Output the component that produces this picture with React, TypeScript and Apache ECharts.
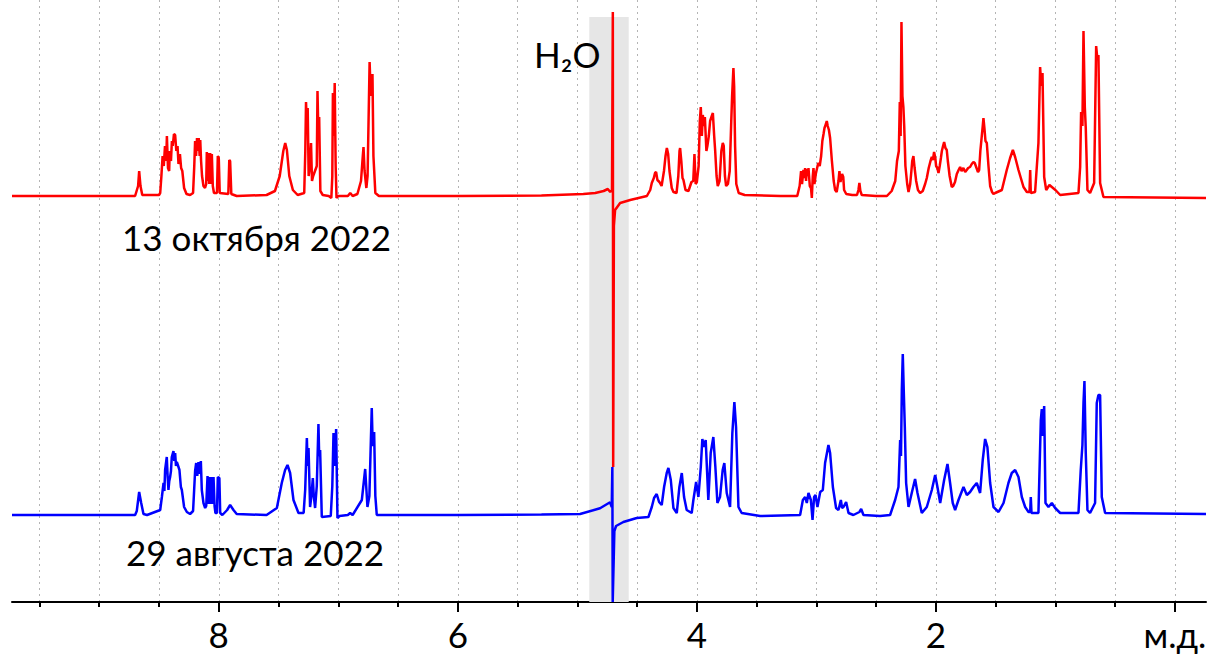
import React, { useEffect, useRef } from "react";
import * as echarts from "echarts";

// ppm range of the x axis (reversed, NMR style)
const ppmMin = -0.26;
const ppmMax = 9.73;
const majorTicks = [0, 2, 4, 6, 8];
const minorTicks = [0, 0.5, 1, 1.5, 2, 2.5, 3, 3.5, 4, 4.5, 5, 5.5, 6, 6.5, 7, 7.5, 8, 8.5, 9, 9.5];
const unitLabel = "м.д.";
const waterBand = [4.9, 4.57];
const waterLabel = "H₂O";
const dateTop = "13 октября 2022";
const dateBottom = "29 августа 2022";

// spectrum recorded 13 Oct 2022: [ppm, intensity]
const oct13Trace = [
  [9.73, 0], [8.70, 0], [8.675, 10], [8.666, 25], [8.655, 10], [8.64, 1],
  [8.50, 1], [8.49, 3], [8.48, 20], [8.47, 40], [8.46, 30], [8.45, 50], [8.44, 35], [8.434, 60], [8.425, 28], [8.415, 25], [8.41, 45], [8.40, 35], [8.392, 55], [8.385, 50], [8.375, 62], [8.365, 61], [8.355, 45], [8.345, 50], [8.337, 32], [8.325, 42], [8.315, 28], [8.305, 25], [8.29, 8], [8.27, 2], [8.24, 1],
  [8.215, 3], [8.205, 30], [8.198, 55], [8.19, 40], [8.182, 58], [8.175, 45], [8.168, 58], [8.16, 40], [8.155, 56], [8.148, 35], [8.14, 20], [8.128, 10], [8.115, 8],
  [8.105, 12], [8.10, 44], [8.094, 15], [8.088, 43], [8.08, 12], [8.072, 43], [8.065, 12], [8.058, 42], [8.05, 10], [8.04, 3],
  [8.015, 3], [8.008, 40], [8.0, 38], [7.992, 3],
  [7.92, 2], [7.912, 36], [7.905, 35], [7.895, 2],
  [7.85, 0], [7.6, 1], [7.53, 5], [7.49, 20], [7.46, 45], [7.444, 53], [7.43, 46], [7.41, 20], [7.38, 6], [7.34, 1],
  [7.285, 3], [7.276, 45], [7.27, 94], [7.263, 70], [7.256, 88], [7.248, 20], [7.238, 30], [7.228, 53], [7.22, 15], [7.21, 20], [7.18, 30], [7.174, 105], [7.168, 70], [7.16, 79], [7.15, 5], [7.13, 1],
  [7.08, 0], [7.058, -2], [7.05, 20], [7.045, 103], [7.037, 60], [7.03, 113], [7.022, 30], [7.015, -2], [7.0, 0],
  [6.92, 0], [6.90, 3], [6.88, 0],
  [6.84, 2], [6.81, 15], [6.795, 40], [6.789, 49], [6.78, 25], [6.765, 8], [6.755, 20], [6.738, 134], [6.728, 100], [6.72, 110], [6.714, 122], [6.706, 40], [6.69, 3], [6.66, 0],
  [6.0, 0], [5.3, 0.5], [4.95, 2], [4.85, 3], [4.78, 5], [4.745, 7], [4.725, 4], [4.71, 6], [4.703, 184], [4.700, -271], [4.694, -30], [4.684, -14], [4.642, -7], [4.558, -4], [4.418, 0],
  [4.39, 6], [4.377, 13], [4.36, 18], [4.35, 23], [4.341, 24], [4.33, 16], [4.313, 14], [4.295, 10], [4.275, 25], [4.262, 40], [4.251, 48], [4.24, 42], [4.229, 25], [4.21, 8], [4.196, 4], [4.17, 3], [4.155, 20], [4.145, 45], [4.14, 48], [4.13, 35], [4.12, 18], [4.112, 16], [4.095, 6], [4.07, 5], [4.045, 14], [4.03, 15], [4.02, 42], [4.01, 12], [4.0, 14], [3.985, 30], [3.975, 75], [3.967, 89], [3.958, 60], [3.95, 81], [3.94, 70], [3.933, 79], [3.92, 45], [3.912, 50], [3.90, 60], [3.889, 75], [3.875, 80], [3.866, 83], [3.855, 60], [3.847, 46], [3.835, 20], [3.825, 10], [3.81, 15], [3.795, 45], [3.783, 53], [3.775, 50], [3.765, 20], [3.755, 10], [3.74, 12], [3.725, 25], [3.712, 75], [3.705, 100], [3.694, 128], [3.688, 110], [3.68, 50], [3.67, 12], [3.65, 3], [3.6, 1],
  [3.3, 0], [3.16, 0], [3.14, 10], [3.128, 25], [3.12, 12], [3.108, 26], [3.1, 18], [3.094, 28], [3.086, 15], [3.08, 27], [3.07, 20], [3.066, 28], [3.055, 10], [3.045, 8], [3.038, -2], [3.03, 20], [3.024, 28], [3.016, 12], [3.005, 22], [2.99, 30], [2.982, 33], [2.972, 30], [2.96, 40], [2.95, 55], [2.94, 62], [2.932, 68], [2.92, 72], [2.913, 75], [2.905, 70], [2.895, 66], [2.885, 58], [2.87, 35], [2.855, 15], [2.843, 6], [2.83, 4], [2.815, 15], [2.807, 25], [2.798, 14], [2.79, 20], [2.785, 22], [2.775, 19], [2.768, 6], [2.75, 2], [2.7, 1], [2.66, 1], [2.648, 6], [2.64, 13], [2.632, 5], [2.62, 1], [2.5, 0], [2.41, 0],
  [2.37, 5], [2.34, 15], [2.325, 35], [2.31, 45], [2.302, 94], [2.295, 60], [2.288, 174], [2.28, 100], [2.272, 89], [2.265, 70], [2.255, 30], [2.24, 12], [2.229, 4], [2.215, 12], [2.205, 25], [2.198, 35], [2.188, 40], [2.178, 28], [2.165, 15], [2.15, 6], [2.132, 3], [2.11, 5], [2.09, 12], [2.076, 18], [2.06, 28], [2.045, 35], [2.034, 39], [2.025, 36], [2.015, 44], [2.005, 38], [1.998, 30], [1.988, 28], [1.978, 23], [1.968, 30], [1.958, 38], [1.95, 45], [1.94, 50], [1.931, 54], [1.92, 48], [1.909, 46], [1.9, 35], [1.885, 20], [1.867, 9], [1.855, 10], [1.84, 14], [1.825, 22], [1.81, 26], [1.797, 29], [1.785, 25], [1.77, 28], [1.755, 24], [1.742, 26], [1.73, 28], [1.714, 29], [1.70, 32], [1.686, 34], [1.675, 33], [1.66, 28], [1.648, 24], [1.638, 26], [1.628, 45], [1.616, 60], [1.608, 70], [1.602, 78], [1.594, 68], [1.585, 55], [1.574, 53], [1.56, 30], [1.546, 10], [1.53, 4], [1.518, 2],
  [1.504, 3], [1.448, 6], [1.407, 26], [1.379, 38], [1.356, 46], [1.337, 39], [1.309, 26], [1.267, 9], [1.239, 4], [1.217, 4], [1.211, 26], [1.206, 3], [1.17, 4], [1.142, 53], [1.128, 129], [1.118, 110], [1.108, 123], [1.094, 19], [1.077, 6], [1.05, 11], [1.03, 9], [1.0, 6], [0.96, 1], [0.807, 3], [0.793, 29], [0.785, 84], [0.774, 70], [0.765, 165], [0.754, 89], [0.746, 68], [0.732, 6], [0.71, 3], [0.676, 13], [0.659, 150], [0.648, 136], [0.64, 141], [0.626, 13], [0.598, -1], [-0.26, -2],
];

// spectrum recorded 29 Aug 2022: [ppm, intensity]
const aug29Trace = [
  [9.73, 1], [8.70, 1], [8.686, 5], [8.666, 24], [8.649, 13], [8.63, 2], [8.60, 1],
  [8.49, 6], [8.476, 19], [8.462, 33], [8.455, 25], [8.449, 46], [8.435, 59], [8.428, 40], [8.421, 26], [8.414, 35], [8.407, 39], [8.40, 45], [8.393, 59], [8.379, 65], [8.372, 55], [8.365, 63], [8.358, 50], [8.351, 54], [8.337, 49], [8.329, 46], [8.317, 29], [8.309, 26], [8.29, 9], [8.267, 4], [8.24, 2],
  [8.215, 5], [8.206, 26], [8.198, 45], [8.189, 53], [8.18, 40], [8.17, 54], [8.16, 42], [8.15, 55], [8.142, 26], [8.128, 13], [8.114, 8],
  [8.105, 10], [8.094, 40], [8.086, 12], [8.078, 39], [8.07, 12], [8.058, 39], [8.05, 12], [8.044, 39], [8.035, 10], [8.028, 3],
  [8.015, 3], [8.008, 39], [7.995, 38], [7.988, 3], [7.97, 1],
  [7.93, 6], [7.905, 11], [7.877, 6], [7.85, 2], [7.6, 1],
  [7.514, 8], [7.473, 33], [7.445, 46], [7.425, 51], [7.403, 43], [7.375, 16], [7.333, 3],
  [7.29, 3], [7.277, 26], [7.263, 78], [7.256, 50], [7.249, 68], [7.236, 9], [7.225, 20], [7.213, 38], [7.205, 20], [7.194, 8], [7.18, 30], [7.166, 92], [7.16, 60], [7.152, 66], [7.138, -1],
  [7.063, 0], [7.05, 30], [7.04, 83], [7.03, 50], [7.018, 87], [7.007, -2], [6.99, 0],
  [6.92, 1], [6.901, 3], [6.88, 1],
  [6.803, 16], [6.775, 47], [6.756, 9], [6.74, 20], [6.72, 108], [6.712, 70], [6.7, 84], [6.69, 20], [6.678, 1],
  [6.0, 1], [5.3, 1.5], [4.977, 2], [4.81, 7.7], [4.726, 13.7], [4.712, 9], [4.707, 49], [4.704, -86], [4.69, -15], [4.676, -10], [4.615, -6], [4.503, -2], [4.405, -1],
  [4.377, 9], [4.358, 18], [4.336, 22], [4.316, 14], [4.294, 11], [4.274, 29], [4.252, 43], [4.238, 48], [4.218, 36], [4.196, 8], [4.168, 3], [4.146, 29], [4.126, 43], [4.107, 19], [4.085, 6], [4.043, 3], [4.029, 16], [4.006, 34], [3.987, 19], [3.967, 49], [3.954, 77], [3.94, 69], [3.926, 76], [3.904, 16], [3.884, 63], [3.862, 79], [3.845, 49], [3.828, 13], [3.806, 19], [3.784, 46], [3.77, 53], [3.75, 23], [3.722, 9], [3.703, 83], [3.686, 114], [3.672, 89], [3.652, 9], [3.625, 3], [3.47, 0],
  [3.136, 1], [3.113, 16], [3.094, 19], [3.08, 13], [3.066, 23], [3.046, 16], [3.032, -4], [3.019, 19], [3.007, 21], [2.991, 9], [2.968, 24], [2.946, 26], [2.927, 53], [2.899, 71], [2.885, 63], [2.862, 29], [2.835, 8], [2.815, 6], [2.795, 16], [2.785, 8], [2.773, 9], [2.751, 14], [2.731, 3], [2.69, 1], [2.64, 4], [2.625, 7], [2.606, 1], [2.467, 0],
  [2.383, 1], [2.341, 16], [2.313, 29], [2.299, 76], [2.292, 60], [2.285, 126], [2.277, 162], [2.269, 126], [2.26, 89], [2.249, 33], [2.229, 9], [2.202, 23], [2.174, 37], [2.154, 23], [2.118, 3], [2.076, 9], [2.034, 26], [2.006, 41], [1.987, 29], [1.964, 13], [1.931, 36], [1.903, 52], [1.881, 33], [1.859, 13], [1.839, 6], [1.811, 16], [1.769, 29], [1.741, 21], [1.714, 24], [1.686, 29], [1.658, 33], [1.63, 23], [1.608, 56], [1.588, 77], [1.569, 69], [1.546, 33], [1.518, 9],
  [1.476, 4], [1.434, 13], [1.393, 33], [1.365, 43], [1.337, 46], [1.309, 39], [1.281, 19], [1.253, 9], [1.225, 4], [1.211, 4], [1.206, 19], [1.2, 3], [1.142, 3], [1.122, 96], [1.114, 107], [1.106, 80], [1.094, 110], [1.083, 13], [1.058, 9], [1.03, 13], [1.002, 8], [0.96, 3], [0.807, 3], [0.788, 46], [0.774, 71], [0.765, 113], [0.757, 135], [0.746, 63], [0.732, 6], [0.71, 3], [0.668, 13], [0.654, 113], [0.64, 121], [0.626, 121], [0.612, 19], [0.584, 3], [-0.26, 2],
];

// vertical stacking offsets of the two traces
const oct13Offset = 406;
const aug29Offset = 86;

const FONT = "Lato, 'Noto Sans', sans-serif";

export default function App() {
  const ref = useRef<HTMLDivElement>(null);
  useEffect(() => {
    if (!ref.current) return;
    const chart = echarts.init(ref.current, undefined, { renderer: "svg" });
    const shift = (trace: number[][], off: number) => trace.map(([x, y]) => [x, y + off]);
    chart.setOption({
      animation: false,
      backgroundColor: "#ffffff",
      grid: { left: 12, right: 15, top: 0, bottom: 52 },
      xAxis: [
        {
          type: "value",
          inverse: true,
          min: ppmMin,
          max: ppmMax,
          position: "bottom",
          axisLine: { show: true, lineStyle: { color: "#000", width: 2 } },
          axisTick: { show: true, customValues: majorTicks, length: 10, lineStyle: { color: "#000", width: 2 } },
          axisLabel: {
            customValues: majorTicks,
            margin: 14,
            fontSize: 35,
            fontFamily: FONT,
            color: "#000",
            formatter: (v: number) => (v === 0 ? unitLabel : String(v)),
          },
          splitLine: { show: false },
        },
        {
          type: "value",
          inverse: true,
          min: ppmMin,
          max: ppmMax,
          position: "bottom",
          axisLine: { show: false },
          axisTick: { show: true, customValues: minorTicks, length: 5, lineStyle: { color: "#000", width: 2 } },
          axisLabel: { show: false },
          splitLine: { show: true, lineStyle: { color: "#b4b4b4", width: 1, type: [2, 4] } },
        },
      ],
      yAxis: { type: "value", min: 0, max: 602, show: false, splitLine: { show: false } },
      series: [
        {
          type: "line",
          name: dateBottom,
          xAxisIndex: 0,
          data: shift(aug29Trace, aug29Offset),
          showSymbol: false,
          lineStyle: { color: "#0000ff", width: 2.5 },
          z: 3,
          markArea: {
            silent: true,
            itemStyle: { color: "#e6e6e6" },
            data: [[{ xAxis: waterBand[0], yAxis: 0 }, { xAxis: waterBand[1], yAxis: 585 }]],
          },
        },
        {
          type: "line",
          name: dateTop,
          xAxisIndex: 0,
          data: shift(oct13Trace, oct13Offset),
          showSymbol: false,
          lineStyle: { color: "#ff0000", width: 2.5 },
          z: 4,
        },
      ],
      graphic: [
        { type: "text", z: 100, left: 122, top: 219, style: { text: dateTop, fontSize: 35, fontFamily: FONT, fill: "#000" } },
        { type: "text", z: 100, left: 126, top: 534, style: { text: dateBottom, fontSize: 35, fontFamily: FONT, fill: "#000" } },
        { type: "text", z: 100, left: 534, top: 36, style: { text: waterLabel, fontSize: 35, fontFamily: FONT, fill: "#000" } },
      ],
    });
    return () => chart.dispose();
  }, []);
  return <div ref={ref} style={{ position: "absolute", left: 0, top: 0, width: 1221, height: 654 }} />;
}
